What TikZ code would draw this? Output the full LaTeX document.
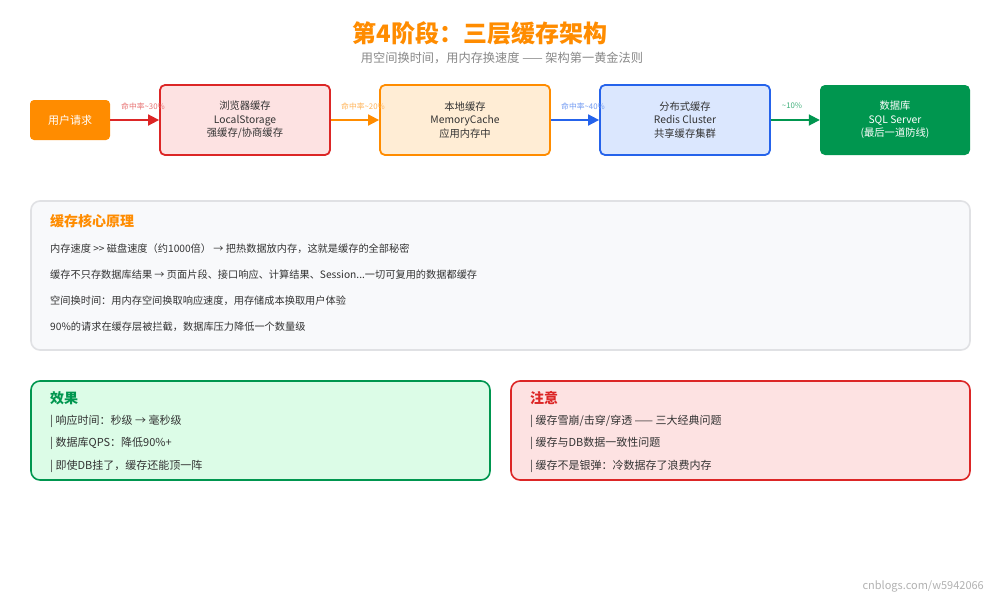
\documentclass[tikz,border=0pt]{standalone}
\usepackage{fontspec}
\setmainfont{Noto Sans CJK SC}
\usetikzlibrary{arrows.meta}
\definecolor{cOrange}{HTML}{FF8C00}
\definecolor{cRed}{HTML}{DC2626}
\definecolor{cRedFill}{HTML}{FDE2E2}
\definecolor{cOrFill}{HTML}{FFEDD5}
\definecolor{cBlue}{HTML}{2563EB}
\definecolor{cBlueFill}{HTML}{DBE7FE}
\definecolor{cGreen}{HTML}{00964F}
\definecolor{cGreenFill}{HTML}{DCFCE7}
\definecolor{cPanel}{HTML}{F8F9FB}
\definecolor{cPanelBorder}{HTML}{E0E1E4}
\definecolor{cText}{HTML}{333333}
\definecolor{cSub}{HTML}{888888}
\tikzset{
  stagebox/.style={draw, line width=1.8pt, rounded corners=5pt, minimum width=170pt, minimum height=70pt, align=center, text=cText, font=\fontsize{10.3}{13.5}\selectfont},
  flowarrow/.style={line width=1.8pt, -{Triangle[length=11pt,width=11pt]}},
  ratelabel/.style={font=\fontsize{7.8}{9}\selectfont, inner sep=0pt},
  bodytext/.style={anchor=west, inner sep=0pt, text=cText, font=\fontsize{11}{13}\selectfont},
  coretext/.style={bodytext, font=\fontsize{10.2}{12}\selectfont},
  boxtitle/.style={anchor=west, inner sep=0pt, font=\fontsize{14}{16}\selectfont\bfseries},
  panel/.style={line width=1.6pt, rounded corners=9pt}
}
\begin{document}
\begin{tikzpicture}[x=1pt,y=-1pt]
\useasboundingbox (0,0) rectangle (1000,600);
\fill[white] (0,0) rectangle (1000,600);

% title
\node[text=cOrange, font=\fontsize{24}{27}\selectfont\bfseries, inner sep=0pt] (title) at (480,33) {第4阶段：三层缓存架构};
\node[text=cSub, font=\fontsize{12.2}{14}\selectfont, inner sep=0pt] (subtitle) at (502,58) {用空间换时间，用内存换速度 —— 架构第一黄金法则};

% flow
\node[fill=cOrange, rounded corners=4pt, minimum width=80pt, minimum height=40pt, text=white, font=\fontsize{11}{13}\selectfont, inner sep=0pt] (user) at (70,120) {用户请求};
\node[stagebox, draw=cRed, fill=cRedFill] (browser) at (245,120) {浏览器缓存\\LocalStorage\\强缓存/协商缓存};
\node[stagebox, draw=cOrange, fill=cOrFill] (local) at (465,120) {本地缓存\\MemoryCache\\应用内存中};
\node[stagebox, draw=cBlue, fill=cBlueFill] (dist) at (685,120) {分布式缓存\\Redis Cluster\\共享缓存集群};
\node[fill=cGreen, rounded corners=5pt, minimum width=150pt, minimum height=70pt, text=white, align=center, font=\fontsize{10.3}{13.5}\selectfont] (db) at (895,120) {数据库\\SQL Server\\(最后一道防线)};

\draw[flowarrow, cRed] (user.east) -- (browser.west);
\draw[flowarrow, cOrange] (browser.east) -- (local.west);
\draw[flowarrow, cBlue] (local.east) -- (dist.west);
\draw[flowarrow, cGreen] (dist.east) -- (db.west);

\node[ratelabel, text=cRed!65] (r1) at (143,106) {命中率\textasciitilde30\%};
\node[ratelabel, text=cOrange!65] (r2) at (363,106) {命中率\textasciitilde20\%};
\node[ratelabel, text=cBlue!65] (r3) at (583,106) {命中率\textasciitilde40\%};
\node[ratelabel, text=cGreen!75] (r4) at (792,106) {\textasciitilde10\%};

% core panel
\draw[panel, draw=cPanelBorder, fill=cPanel] (31,201) rectangle (970,350);
\node[boxtitle, text=cOrange] (coretitle) at (50,221) {缓存核心原理};
\node[coretext] (c1) at (50,249) {内存速度 {>}{>} 磁盘速度（约1000倍） → 把热数据放内存，这就是缓存的全部秘密};
\node[coretext] (c2) at (50,275) {缓存不只存数据库结果 → 页面片段、接口响应、计算结果、Session...一切可复用的数据都缓存};
\node[coretext] (c3) at (50,301) {空间换时间：用内存空间换取响应速度，用存储成本换取用户体验};
\node[coretext] (c4) at (50,327) {90\%的请求在缓存层被拦截，数据库压力降低一个数量级};

% effect panel
\draw[panel, draw=cGreen, fill=cGreenFill] (31,381) rectangle (490,480);
\node[boxtitle, text=cGreen] (efftitle) at (50,398) {效果};
\node[bodytext] (e1) at (50,421) {| 响应时间：秒级 → 毫秒级};
\node[bodytext] (e2) at (50,443) {| 数据库QPS：降低90\%+};
\node[bodytext] (e3) at (50,466) {| 即使DB挂了，缓存还能顶一阵};

% attention panel
\draw[panel, draw=cRed, fill=cRedFill] (511,381) rectangle (970,480);
\node[boxtitle, text=cRed] (atttitle) at (530,398) {注意};
\node[bodytext] (a1) at (530,421) {| 缓存雪崩/击穿/穿透 —— 三大经典问题};
\node[bodytext] (a2) at (530,443) {| 缓存与DB数据一致性问题};
\node[bodytext] (a3) at (530,466) {| 缓存不是银弹：冷数据存了浪费内存};

% watermark
\node[anchor=east, inner sep=0pt, text=black!30, font=\fontsize{11}{13}\selectfont] (wm) at (984,586) {cnblogs.com/w5942066};
\end{tikzpicture}
\end{document}
